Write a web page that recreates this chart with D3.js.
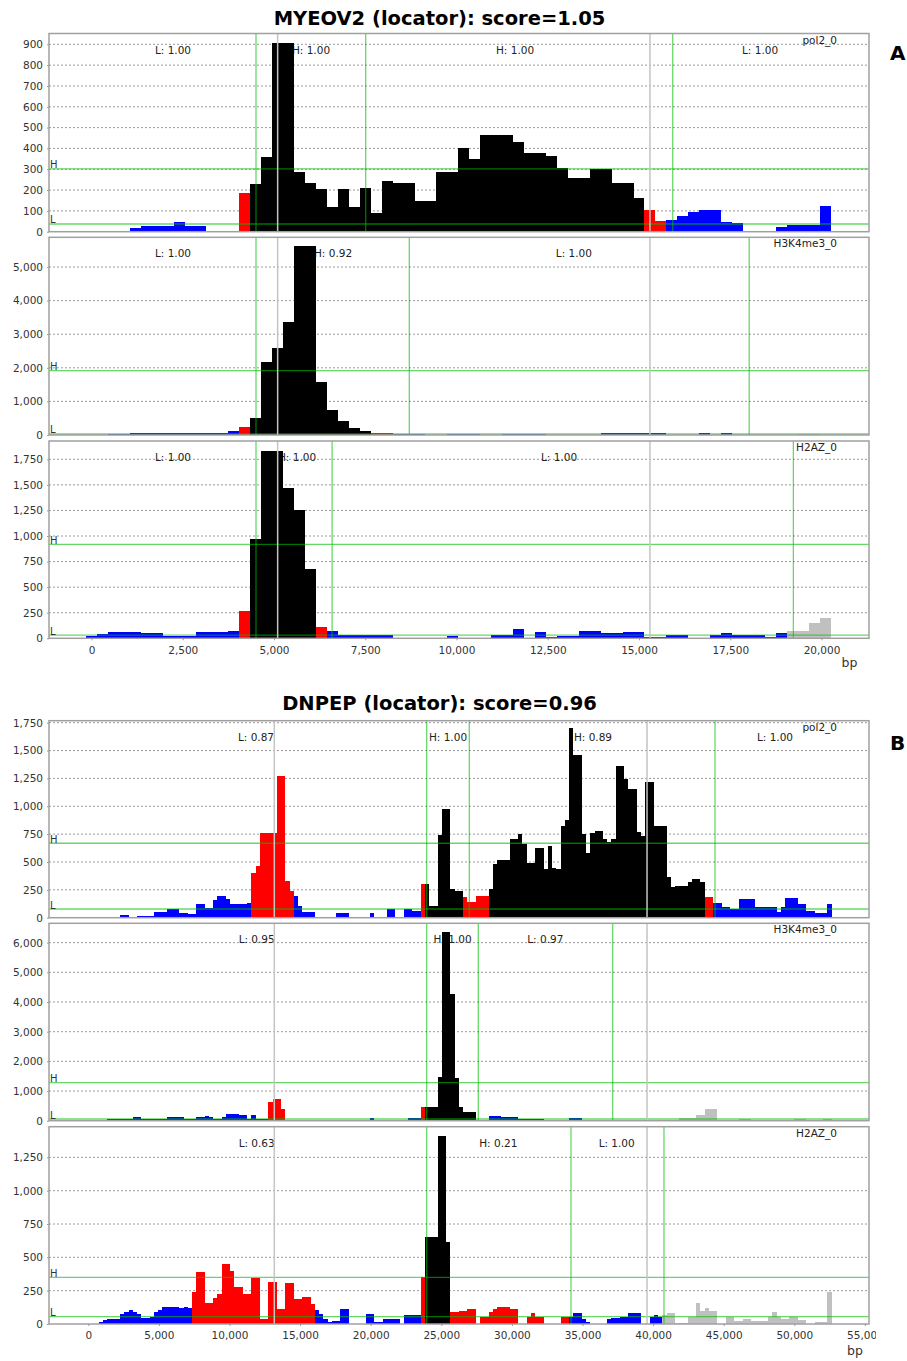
<!DOCTYPE html>
<html>
<head>
<meta charset="utf-8">
<script src="https://cdn.jsdelivr.net/npm/d3@7"></script>
<style>
  body { margin: 0; background: #fff; }
  svg { display: block; font-family: "DejaVu Sans", sans-serif; }
</style>
</head>
<body>
<svg id="chart" width="907" height="1361"></svg>
<script>
// bins are 300 bp wide, bin 0 starts at -150 bp
const binStart = -150;
const binWidth = 300;

// class of a bin: L = low (blue), M = middle (red), H = high (black), O = outside (grey)
const classColours = { L: '#0000ff', M: '#ff0000', H: '#000000', O: '#c0c0c0' };

const titles = ['MYEOV2 (locator): score=1.05', 'DNPEP (locator): score=0.96'];
const letters = ['A', 'B'];
const trackNames = ['pol2_0', 'H3K4me3_0', 'H2AZ_0'];

const xTicksA = [0, 2500, 5000, 7500, 10000, 12500, 15000, 17500, 20000];
const xTicksB = [0, 5000, 10000, 15000, 20000, 25000, 30000, 35000, 40000, 45000, 50000, 55000];

// [first bin, end bin (exclusive), reads, class]
const myeovPol2 = [
  [4,5,20,'L'],[5,8,25,'L'],[8,9,48,'L'],[9,11,27,'L'],
  [14,15,184,'M'],
  [15,16,228,'H'],[16,17,357,'H'],[17,19,908,'H'],[19,20,288,'H'],[20,21,235,'H'],[21,22,204,'H'],
  [22,23,117,'H'],[23,24,204,'H'],[24,25,117,'H'],[25,26,208,'H'],[26,27,91,'H'],[27,28,245,'H'],
  [28,30,235,'H'],[30,32,147,'H'],[32,34,288,'H'],[34,35,403,'H'],[35,36,351,'H'],[36,39,464,'H'],
  [39,40,432,'H'],[40,42,376,'H'],[42,43,364,'H'],[43,44,307,'H'],[44,46,256,'H'],[46,48,300,'H'],
  [48,50,235,'H'],[50,51,163,'H'],
  [51,52,104,'M'],[52,53,53,'M'],
  [53,54,55,'L'],[54,55,75,'L'],[55,56,96,'L'],[56,58,104,'L'],[58,59,48,'L'],[59,60,40,'L'],
  [60,62,5,'L'],[63,64,24,'L'],[64,67,32,'L'],[67,68,125,'L']
];
const myeovH3k4 = [
  [2,4,15,'L'],[4,13,62,'L'],[13,14,120,'L'],
  [14,15,230,'M'],
  [15,16,515,'H'],[16,17,2180,'H'],[17,18,2580,'H'],[18,19,3354,'H'],[19,21,5634,'H'],[21,22,1568,'H'],
  [22,23,744,'H'],[23,24,426,'H'],[24,25,199,'H'],[25,26,128,'H'],
  [26,28,68,'M'],
  [28,31,15,'L'],[33,36,15,'L'],[38,42,15,'L'],[42,47,10,'L'],[47,53,50,'L'],[56,57,50,'L'],[58,59,50,'L'],
  [65,67,20,'O']
];
const myeovH2az = [
  [0,1,22,'L'],[1,2,39,'L'],[2,5,62,'L'],[5,7,49,'L'],[7,10,22,'L'],[10,13,59,'L'],[13,14,71,'L'],
  [14,15,267,'M'],
  [15,16,970,'H'],[16,18,1834,'H'],[18,19,1472,'H'],[19,20,1257,'H'],[20,21,674,'H'],
  [21,22,107,'M'],
  [22,23,71,'L'],[23,28,32,'L'],[33,34,20,'L'],[37,39,32,'L'],[39,40,91,'L'],[41,42,59,'L'],[42,43,10,'L'],
  [43,45,20,'L'],[45,47,71,'L'],[47,49,49,'L'],[49,51,59,'L'],[51,53,10,'L'],[53,55,32,'L'],[57,58,32,'L'],
  [58,59,49,'L'],[59,62,32,'L'],[62,63,16,'L'],[63,64,49,'L'],
  [64,66,71,'O'],[66,67,152,'O'],[67,68,195,'O']
];

const dnpepPol2 = [
  [8,10,24,'L'],[10,11,9,'L'],[12,16,15,'L'],[16,19,48,'L'],[19,22,78,'L'],[22,24,45,'L'],[24,26,33,'L'],
  [26,28,123,'L'],[28,30,84,'L'],[30,31,159,'L'],[31,33,198,'L'],[33,34,168,'L'],[34,38,123,'L'],[38,39,129,'L'],
  [39,40,399,'M'],[40,41,468,'M'],[41,45,759,'M'],[45,47,1268,'M'],[47,48,330,'M'],[48,49,240,'M'],
  [49,50,198,'L'],[50,51,108,'L'],[51,54,54,'L'],[54,55,9,'L'],[59,62,45,'L'],[67,68,45,'L'],[71,73,78,'L'],
  [75,77,75,'L'],[77,79,63,'L'],
  [79,80,300,'M'],
  [80,81,300,'H'],[81,83,105,'H'],[83,84,738,'H'],[84,86,975,'H'],[86,87,255,'H'],[87,89,240,'H'],
  [89,90,189,'M'],[90,92,140,'M'],[92,95,198,'M'],
  [95,96,258,'H'],[96,97,483,'H'],[97,100,519,'H'],[100,102,705,'H'],[102,103,750,'H'],[103,104,663,'H'],
  [104,106,489,'H'],[106,108,624,'H'],[108,109,435,'H'],[109,110,645,'H'],[110,111,444,'H'],[111,112,438,'H'],
  [112,113,825,'H'],[113,114,879,'H'],[114,115,1702,'H'],[115,117,1458,'H'],[117,118,750,'H'],[118,119,579,'H'],
  [119,120,759,'H'],[120,122,780,'H'],[122,123,705,'H'],[123,124,675,'H'],[124,125,708,'H'],[125,127,1357,'H'],
  [127,128,1244,'H'],[128,130,1157,'H'],[130,131,765,'H'],[131,132,729,'H'],[132,134,1217,'H'],[134,137,825,'H'],
  [137,138,369,'H'],[138,139,279,'H'],[139,142,285,'H'],[142,143,318,'H'],[143,145,345,'H'],[145,146,318,'H'],
  [146,148,189,'M'],
  [148,150,129,'L'],[150,152,93,'L'],[152,154,78,'L'],[154,158,168,'L'],[158,163,99,'L'],[163,164,54,'L'],
  [164,165,99,'L'],[165,168,174,'L'],[168,170,120,'L'],[170,172,63,'L'],[172,175,45,'L'],[175,176,123,'L']
];
const dnpepH3k4 = [
  [5,11,50,'L'],[11,13,112,'L'],[13,19,56,'L'],[19,23,112,'L'],[23,26,56,'L'],[26,28,112,'L'],[28,29,157,'L'],
  [29,30,112,'L'],[30,32,56,'L'],[32,33,135,'L'],[33,36,225,'L'],[36,38,180,'L'],[38,39,56,'L'],[39,40,191,'L'],
  [40,43,56,'L'],
  [43,44,618,'M'],[44,46,730,'M'],[46,47,382,'M'],
  [47,55,34,'L'],[59,62,34,'L'],[66,67,34,'L'],[67,68,101,'L'],[68,69,34,'L'],[76,79,101,'L'],
  [79,80,449,'M'],
  [80,83,472,'H'],[83,84,1483,'H'],[84,86,6370,'H'],[86,87,4275,'H'],[87,88,1427,'H'],[88,89,472,'H'],[89,92,281,'H'],
  [92,95,34,'L'],[95,98,169,'L'],[98,102,135,'L'],[102,108,45,'L'],[114,117,101,'L'],
  [126,131,40,'O'],[131,140,15,'O'],[140,144,79,'O'],[144,146,191,'O'],[146,149,393,'O'],[149,154,15,'O'],
  [154,157,45,'O'],[157,167,15,'O'],[167,170,45,'O'],[170,174,15,'O'],[174,176,45,'O']
];
const dnpepH2az = [
  [3,4,12,'L'],[4,5,30,'L'],[5,8,37,'L'],[8,9,72,'L'],[9,10,87,'L'],[10,11,105,'L'],[11,12,87,'L'],[12,13,72,'L'],
  [13,15,42,'L'],[15,16,55,'L'],[16,17,87,'L'],[17,18,105,'L'],[18,22,130,'L'],[22,23,122,'L'],[23,24,130,'L'],
  [24,25,122,'L'],
  [25,26,238,'M'],[26,28,392,'M'],[28,30,155,'M'],[30,31,192,'M'],[31,32,222,'M'],[32,34,450,'M'],[34,35,400,'M'],
  [35,37,275,'M'],[37,39,227,'M'],[39,41,347,'M'],[41,43,37,'M'],[43,45,312,'M'],[45,47,112,'M'],[47,49,305,'M'],
  [49,51,185,'M'],[51,53,205,'M'],[53,54,147,'M'],
  [54,55,105,'L'],[55,56,72,'L'],[56,57,37,'L'],[57,58,17,'L'],[58,60,25,'L'],[60,62,112,'L'],[66,68,72,'L'],
  [68,70,17,'L'],[70,74,37,'L'],[75,79,65,'L'],
  [79,80,350,'M'],
  [80,83,655,'H'],[83,85,1410,'H'],[85,86,612,'H'],
  [86,88,87,'M'],[88,90,100,'M'],[90,92,112,'M'],[93,95,55,'M'],[95,96,92,'M'],[96,97,112,'M'],[97,100,130,'M'],
  [100,102,112,'M'],[104,105,55,'M'],[105,106,80,'M'],[106,108,55,'M'],[112,114,55,'M'],
  [114,115,55,'L'],[115,117,80,'L'],[117,118,37,'L'],[118,119,12,'L'],[123,124,35,'L'],[124,126,42,'L'],
  [126,128,55,'L'],[128,131,80,'L'],[133,134,55,'L'],[134,135,67,'L'],[135,136,55,'L'],
  [136,137,67,'O'],[137,139,80,'O'],[139,142,10,'O'],[142,144,55,'O'],[144,145,155,'O'],[145,146,97,'O'],
  [146,147,122,'O'],[147,149,97,'O'],[151,153,55,'O'],[153,155,22,'O'],[155,157,37,'O'],[157,161,22,'O'],
  [161,162,55,'O'],[162,163,87,'O'],[163,164,50,'O'],[164,166,37,'O'],[166,168,50,'O'],[168,170,30,'O'],
  [172,175,12,'O'],[175,176,242,'O']
];

// H / L thresholds per track
const myeovHigh = [302, 1914, 919];
const myeovLow = [37, 30, 32];
const dnpepHigh = [668, 1281, 350];
const dnpepLow = [78, 57, 55];

// region borders (bp) per track, and gene start / end
const myeovBorders = [[4507, 7512, 15924], [4507, 8707, 18019], [4507, 6592, 19229]];
const dnpepBorders = [[23965, 26983, 44383], [23965, 27620, 37138], [23965, 34185, 40771]];
const myeovGene = [5100, 15300];
const dnpepGene = [13173, 39570];

// region labels [bp, text]
const myeovRegions = [
  [[2233, 'L: 1.00'], [6014, 'H: 1.00'], [11604, 'H: 1.00'], [18316, 'L: 1.00']],
  [[2233, 'L: 1.00'], [6617, 'H: 0.92'], [13215, 'L: 1.00']],
  [[2233, 'L: 1.00'], [5631, 'H: 1.00'], [12810, 'L: 1.00']]
];
const dnpepRegions = [
  [[11877, 'L: 0.87'], [25474, 'H: 1.00'], [35742, 'H: 0.89'], [48632, 'L: 1.00']],
  [[11926, 'L: 0.95'], [25793, 'H: 1.00'], [32365, 'L: 0.97']],
  [[11926, 'L: 0.63'], [29036, 'H: 0.21'], [37421, 'L: 1.00']]
];

const myeovYTicks = [
  [0, 100, 200, 300, 400, 500, 600, 700, 800, 900],
  [0, 1000, 2000, 3000, 4000, 5000],
  [0, 250, 500, 750, 1000, 1250, 1500, 1750]
];
const dnpepYTicks = [
  [0, 250, 500, 750, 1000, 1250, 1500, 1750],
  [0, 1000, 2000, 3000, 4000, 5000, 6000],
  [0, 250, 500, 750, 1000, 1250]
];

// ---- layout ----
const plotLeft = 49, plotRight = 869;
const fmt = d3.format(',');

const charts = [
  {
    title: titles[0], letter: letters[0], titleY: 24.5, letterY: 60, bpY: 667,
    xDomain: [-1164, 21301], xTicks: xTicksA, clipX: 907,
    tracks: [myeovPol2, myeovH3k4, myeovH2az], high: myeovHigh, low: myeovLow,
    borders: myeovBorders, gene: myeovGene, regions: myeovRegions, yTicks: myeovYTicks,
    frames: [[33.5, 231.7, 952], [237.3, 435, 5884], [441, 638.3, 1929]]
  },
  {
    title: titles[1], letter: letters[1], titleY: 710, letterY: 750, bpY: 1355,
    xDomain: [-2783, 55290], xTicks: xTicksB, clipX: 876,
    tracks: [dnpepPol2, dnpepH3k4, dnpepH2az], high: dnpepHigh, low: dnpepLow,
    borders: dnpepBorders, gene: dnpepGene, regions: dnpepRegions, yTicks: dnpepYTicks,
    frames: [[720.7, 917.7, 1768], [923.3, 1120.7, 6652], [1126.7, 1324, 1480]]
  }
];

const svg = d3.select('#chart');

svg.append('defs').selectAll('clipPath')
  .data(charts)
  .enter().append('clipPath')
    .attr('id', (d, i) => 'axisclip' + i)
  .append('rect')
    .attr('x', 0).attr('y', 0)
    .attr('width', d => d.clipX).attr('height', 1361);

const drawTrack = (c, x, k) => {
  const [top, base, yMax] = c.frames[k];
  const y = d3.scaleLinear().domain([0, yMax]).range([base, top]);
  const g = svg.append('g');

  g.append('rect')
    .attr('x', plotLeft).attr('y', top)
    .attr('width', plotRight - plotLeft).attr('height', base - top)
    .attr('fill', '#fff');

  g.selectAll('.grid')
    .data(c.yTicks[k].filter(t => t > 0))
    .enter().append('line')
      .attr('x1', plotLeft).attr('x2', plotRight)
      .attr('y1', d => y(d)).attr('y2', d => y(d))
      .attr('stroke', '#9a9a9a')
      .attr('stroke-width', 1)
      .attr('stroke-dasharray', '2,2');

  const yAxis = d3.axisLeft(y)
    .tickValues(c.yTicks[k])
    .tickFormat(fmt)
    .tickSize(2)
    .tickPadding(4);

  const ya = g.append('g')
    .attr('transform', 'translate(' + plotLeft + ',0)')
    .call(yAxis);
  ya.select('.domain').remove();
  ya.selectAll('line').attr('stroke', '#999');
  ya.selectAll('text')
    .attr('fill', '#333')
    .style('font-size', '10.5px')
    .style('font-family', '"DejaVu Sans", sans-serif');

  // region scores (drawn under the bars)
  g.selectAll('.region')
    .data(c.regions[k])
    .enter().append('text')
      .attr('x', d => x(d[0]))
      .attr('y', top + 20)
      .attr('text-anchor', 'middle')
      .attr('fill', '#222')
      .style('font-size', '10.5px')
      .text(d => d[1]);

  g.append('text')
    .attr('x', plotRight - 32)
    .attr('y', top + 10)
    .attr('text-anchor', 'end')
    .attr('fill', '#222')
    .style('font-size', '10.5px')
    .text(trackNames[k]);

  g.selectAll('.bar')
    .data(c.tracks[k])
    .enter().append('rect')
      .attr('x', d => x(binStart + d[0] * binWidth))
      .attr('width', d => x(binStart + d[1] * binWidth) - x(binStart + d[0] * binWidth))
      .attr('y', d => y(d[2]))
      .attr('height', d => base - y(d[2]))
      .attr('fill', d => classColours[d[3]])
      .attr('shape-rendering', 'crispEdges');

  // thresholds
  const thr = [[c.high[k], 'H'], [c.low[k], 'L']];
  g.selectAll('.thr')
    .data(thr)
    .enter().append('line')
      .attr('x1', plotLeft).attr('x2', plotRight)
      .attr('y1', d => y(d[0])).attr('y2', d => y(d[0]))
      .attr('stroke', 'rgb(0,190,0)')
      .attr('stroke-opacity', 0.6)
      .attr('stroke-width', 1.3);
  g.selectAll('.thrlabel')
    .data(thr)
    .enter().append('text')
      .attr('x', plotLeft + 1)
      .attr('y', d => y(d[0]) - 0.5)
      .attr('fill', '#333')
      .style('font-size', '10px')
      .text(d => d[1]);

  g.selectAll('.border')
    .data(c.borders[k])
    .enter().append('line')
      .attr('x1', d => x(d)).attr('x2', d => x(d))
      .attr('y1', top).attr('y2', base)
      .attr('stroke', 'rgb(0,190,0)')
      .attr('stroke-opacity', 0.6)
      .attr('stroke-width', 1.3);

  g.selectAll('.gene')
    .data(c.gene)
    .enter().append('line')
      .attr('x1', d => x(d)).attr('x2', d => x(d))
      .attr('y1', top).attr('y2', base)
      .attr('stroke', '#c4c4c4')
      .attr('stroke-width', 1.5);

  g.append('rect')
    .attr('x', plotLeft).attr('y', top)
    .attr('width', plotRight - plotLeft).attr('height', base - top)
    .attr('fill', 'none')
    .attr('stroke', '#a0a0a0')
    .attr('stroke-width', 1.5);

  return y;
};

charts.forEach((c, ci) => {
  const x = d3.scaleLinear()
    .domain(c.xDomain)
    .range([plotLeft, plotRight]);

  svg.append('text')
    .attr('x', 439.5)
    .attr('y', c.titleY)
    .attr('text-anchor', 'middle')
    .style('font-size', '19.5px')
    .style('font-weight', 'bold')
    .text(c.title);

  svg.append('text')
    .attr('x', 890)
    .attr('y', c.letterY)
    .style('font-size', '20px')
    .style('font-weight', 'bold')
    .text(c.letter);

  c.tracks.forEach((t, k) => drawTrack(c, x, k));

  const base = c.frames[2][1];
  const xAxis = d3.axisBottom(x)
    .tickValues(c.xTicks)
    .tickFormat(fmt)
    .tickSize(2)
    .tickPadding(6);

  const xa = svg.append('g')
    .attr('clip-path', 'url(#axisclip' + ci + ')')
    .append('g')
    .attr('transform', 'translate(0,' + base + ')')
    .call(xAxis);
  xa.select('.domain').remove();
  xa.selectAll('line').attr('stroke', '#999');
  xa.selectAll('text')
    .attr('fill', '#333')
    .style('font-size', '10.5px')
    .style('font-family', '"DejaVu Sans", sans-serif');

  svg.append('text')
    .attr('x', ci === 0 ? 841.5 : 847)
    .attr('y', c.bpY)
    .attr('fill', '#333')
    .style('font-size', '12.5px')
    .text('bp');
});
</script>
</body>
</html>
